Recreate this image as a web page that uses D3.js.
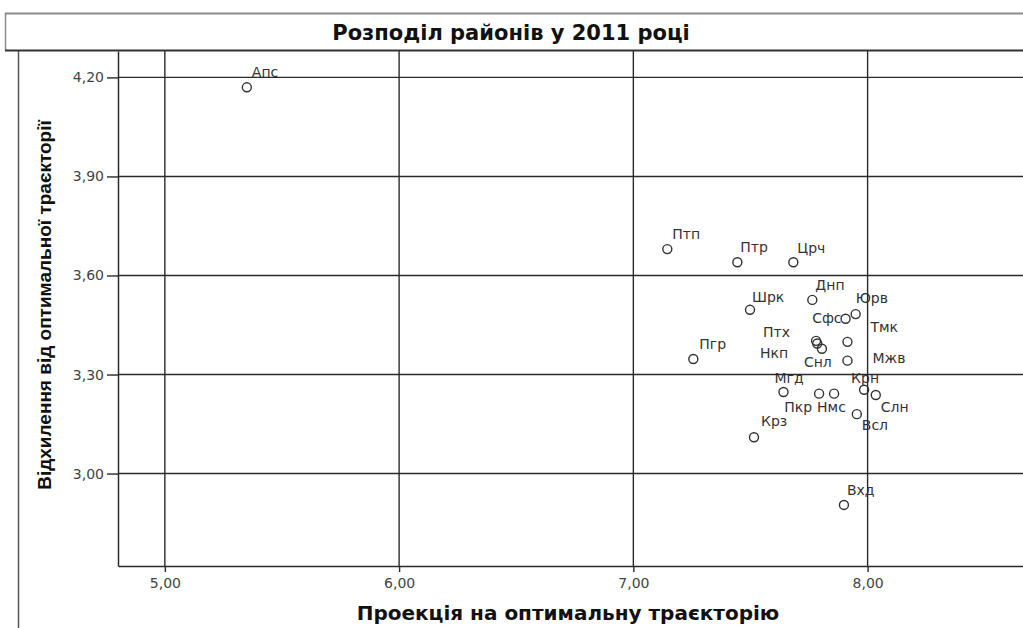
<!DOCTYPE html>
<html>
<head>
<meta charset="utf-8">
<script src="https://cdn.jsdelivr.net/npm/d3@7"></script>
<style>
  body { margin: 0; background: #fff; }
  svg { display: block; }
</style>
</head>
<body>
<svg id="chart" width="1023" height="628"></svg>
<script>
// district codes, projection on optimal trajectory (x), deviation from it (y)
const districts = ['Апс', 'Птп', 'Птр', 'Црч', 'Днп', 'Юрв', 'Шрк', 'Сфс', 'Тмк', 'Птх', 'Нкп',
                   'Снл', 'Мжв', 'Пгр', 'Мгд', 'Пкр', 'Нмс', 'Крн', 'Слн', 'Всл', 'Крз', 'Вхд'];
const projection = [5.35, 7.145, 7.444, 7.683, 7.764, 7.949, 7.498, 7.906, 7.914, 7.78, 7.785,
                    7.805, 7.914, 7.256, 7.641, 7.793, 7.857, 7.985, 8.035, 7.954, 7.515, 7.899];
const deviation = [4.17, 3.68, 3.64, 3.64, 3.526, 3.483, 3.496, 3.469, 3.399, 3.402, 3.394,
                   3.378, 3.342, 3.347, 3.247, 3.242, 3.242, 3.254, 3.238, 3.18, 3.11, 2.905];

const xTicks = [5, 6, 7, 8];
const yTicks = [3.0, 3.3, 3.6, 3.9, 4.2];

const title = 'Розподіл районів у 2011 році';
const xTitle = 'Проекція на оптимальну траєкторію';
const yTitle = 'Відхилення від оптимальної траєкторії';

// label placement (px from the point), like the original's auto-placement
const labelDx = [5, 5, 3, 4, 3, 0, 2, -4, 23, -26, -29, -18, 25, 6, -9, -7, -17, -13, 5, 5, 7, 3];
const labelDy = [-10, -10, -10, -9, -10, -11, -8, 4, -10, -4, 15, 18, 2, -10, -9, 18, 18, -7, 17, 16, -11, -10];
const labelAnchor = ['start', 'start', 'start', 'start', 'start', 'start', 'start', 'end', 'start', 'end', 'end',
                     'start', 'start', 'start', 'start', 'end', 'start', 'start', 'start', 'start', 'start', 'start'];

const plot = { left: 118, top: 51, bottom: 566, right: 1055 };
const lineColor = '#2a2a2a';
const wideFont = '"DejaVu Sans", Verdana, sans-serif';

const svg = d3.select('#chart');
const comma = d3.formatLocale({ decimal: ',', thousands: ' ', grouping: [3], currency: ['', ''] }).format('.2f');

const x = d3.scaleLinear().domain([4.8, 8.8]).range([plot.left, plot.right]);
const y = d3.scaleLinear().domain([2.72, 4.28]).range([plot.bottom, plot.top]);

// outer frame + title box
svg.append('line')
  .attr('x1', 5).attr('x2', 1023).attr('y1', 13.5).attr('y2', 13.5)
  .attr('stroke', '#8a8a8a').attr('stroke-width', 2);
svg.append('line')
  .attr('x1', 5.5).attr('x2', 5.5).attr('y1', 13).attr('y2', 50)
  .attr('stroke', '#8a8a8a').attr('stroke-width', 1.5);
svg.append('line')
  .attr('x1', 18.5).attr('x2', 18.5).attr('y1', 50).attr('y2', 628)
  .attr('stroke', '#555').attr('stroke-width', 1.5);

svg.append('text')
  .attr('x', 511).attr('y', 40)
  .attr('text-anchor', 'middle')
  .style('font-family', wideFont)
  .style('font-weight', 'bold')
  .style('font-size', '21px')
  .attr('fill', '#111')
  .text(title);

// grid
const grid = svg.append('g').attr('stroke', lineColor).attr('stroke-width', 1.4);
grid.selectAll('.gx')
  .data(xTicks)
  .join('line')
    .attr('class', 'gx')
    .attr('x1', d => x(d)).attr('x2', d => x(d))
    .attr('y1', plot.top).attr('y2', plot.bottom);
grid.selectAll('.gy')
  .data(yTicks)
  .join('line')
    .attr('class', 'gy')
    .attr('x1', plot.left).attr('x2', plot.right)
    .attr('y1', d => y(d)).attr('y2', d => y(d));

// axes
const xAxis = d3.axisBottom(x).tickValues(xTicks).tickFormat(comma)
  .tickSizeInner(6).tickSizeOuter(0).tickPadding(6);
const yAxis = d3.axisLeft(y).tickValues(yTicks).tickFormat(comma)
  .tickSizeInner(11).tickSizeOuter(0).tickPadding(3);

const gx = svg.append('g').attr('transform', `translate(0,${plot.bottom})`).call(xAxis);
const gy = svg.append('g').attr('transform', `translate(${plot.left},0)`).call(yAxis);

[gx, gy].forEach(g => {
  g.select('.domain').attr('stroke', lineColor).attr('stroke-width', 1.5);
  g.selectAll('.tick line').attr('stroke', lineColor).attr('stroke-width', 1.4);
  g.selectAll('.tick text')
    .attr('fill', '#444')
    .style('font-family', wideFont)
    .style('font-size', '14px');
});
// top of the plot sits on the title box bottom
svg.append('line')
  .attr('x1', 5).attr('x2', 1023).attr('y1', 50.5).attr('y2', 50.5)
  .attr('stroke', '#333').attr('stroke-width', 2);

// axis titles
svg.append('text')
  .attr('x', 568).attr('y', 620)
  .attr('text-anchor', 'middle')
  .style('font-family', wideFont)
  .style('font-weight', 'bold')
  .style('font-size', '20px')
  .attr('fill', '#111')
  .text(xTitle);

svg.append('text')
  .attr('transform', 'translate(51,305) rotate(-90)')
  .attr('text-anchor', 'middle')
  .style('font-family', '"Liberation Sans Narrow", "Liberation Sans", Arial, sans-serif')
  .style('font-weight', 'bold')
  .style('font-size', '19px')
  .attr('fill', '#111')
  .text(yTitle);

// points
const points = districts.map((name, i) => ({ name, px: projection[i], dev: deviation[i], i }));

svg.append('g')
  .selectAll('circle')
  .data(points)
  .join('circle')
    .attr('cx', d => x(d.px))
    .attr('cy', d => y(d.dev))
    .attr('r', 4.5)
    .attr('fill', 'none')
    .attr('stroke', '#333')
    .attr('stroke-width', 1.4);

svg.append('g')
  .selectAll('text')
  .data(points)
  .join('text')
    .attr('x', d => x(d.px) + labelDx[d.i])
    .attr('y', d => y(d.dev) + labelDy[d.i])
    .attr('text-anchor', d => labelAnchor[d.i])
    .style('font-family', wideFont)
    .style('font-size', '14px')
    .attr('fill', '#333')
    .text(d => d.name);
</script>
</body>
</html>
